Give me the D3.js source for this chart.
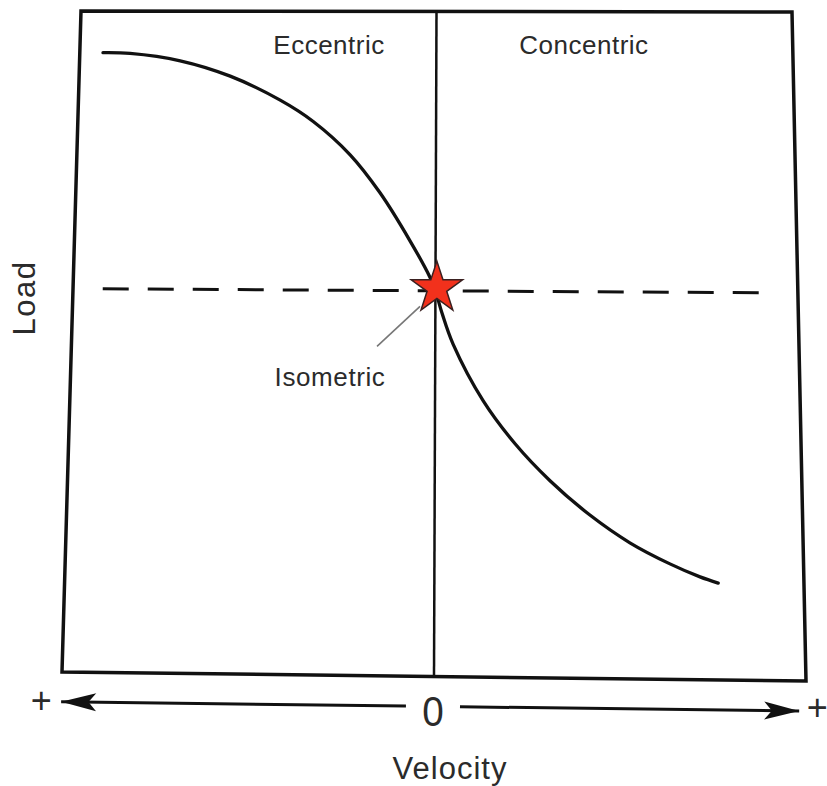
<!DOCTYPE html>
<html>
<head>
<meta charset="utf-8">
<script src="https://cdn.jsdelivr.net/npm/d3@7"></script>
<style>
  html, body { margin: 0; padding: 0; background: #fff; }
  svg { display: block; }
  text { font-family: "Liberation Sans", Arial, Helvetica, sans-serif; fill: #2b2b2b; }
</style>
</head>
<body>
<svg id="chart"></svg>
<script>
// load-velocity curve (velocity: eccentric < 0 < concentric, load 0..1)
const curveVelocity = [-0.935, -0.859, -0.718, -0.577, -0.436, -0.343, -0.239, -0.155, -0.071, -0.015, 0, 0.018, 0.049, 0.132, 0.219, 0.314, 0.422, 0.530, 0.638, 0.719, 0.768];
const curveLoad     = [ 0.937,  0.936,  0.925,  0.902,  0.866,  0.834,  0.784,  0.727,  0.655,  0.600, 0.58, 0.547, 0.500, 0.415, 0.351, 0.296, 0.245, 0.204, 0.173, 0.154, 0.145];

const isometricLoad = 0.58;
const dashRange = [-0.918, 0.918];
const regions = [
  { name: 'Eccentric',  velocity: -0.301 },
  { name: 'Concentric', velocity: 0.414 }
];

const width = 827, height = 786;
const svg = d3.select('#chart').attr('width', width).attr('height', height);

// the scanned frame is a bit out of square, so plot coords go through a bilinear warp
const corners = { tl: [81, 11], tr: [792, 12], bl: [62, 672], br: [806, 681] };

const x = d3.scaleLinear().domain([-1, 1]).range([0, 1]);
const y = d3.scaleLinear().domain([0, 1]).range([1, 0]);

function warp(vel, load) {
  const u = x(vel), v = y(load);
  const a = (1 - u) * (1 - v), b = u * (1 - v), c = (1 - u) * v, d = u * v;
  return [
    a * corners.tl[0] + b * corners.tr[0] + c * corners.bl[0] + d * corners.br[0],
    a * corners.tl[1] + b * corners.tr[1] + c * corners.bl[1] + d * corners.br[1]
  ];
}

// frame
const frame = [[-1, 1], [1, 1], [1, 0], [-1, 0]].map(p => warp(p[0], p[1]));
svg.append('path')
  .attr('d', d3.line().curve(d3.curveLinearClosed)(frame))
  .attr('fill', 'none')
  .attr('stroke', '#111')
  .attr('stroke-width', 3.5)
  .attr('stroke-linejoin', 'miter');

// zero velocity line
svg.append('line')
  .attr('x1', warp(0, 1)[0]).attr('y1', warp(0, 1)[1])
  .attr('x2', warp(0, 0)[0]).attr('y2', warp(0, 0)[1])
  .attr('stroke', '#111')
  .attr('stroke-width', 2.5);

// isometric load, dashed
const d0 = warp(dashRange[0], isometricLoad), d1 = warp(dashRange[1], isometricLoad);
svg.append('line')
  .attr('x1', d0[0]).attr('y1', d0[1])
  .attr('x2', d1[0]).attr('y2', d1[1])
  .attr('stroke', '#111')
  .attr('stroke-width', 3)
  .attr('stroke-dasharray', '26 19');

// the curve
const pts = curveVelocity.map((v, i) => warp(v, curveLoad[i]));
svg.append('path')
  .attr('d', d3.line().curve(d3.curveCatmullRom.alpha(0.5))(pts))
  .attr('fill', 'none')
  .attr('stroke', '#111')
  .attr('stroke-width', 3.3)
  .attr('stroke-linecap', 'round');

// region labels
regions.forEach(r => {
  const p = warp(r.velocity, 0.936);
  svg.append('text')
    .attr('x', p[0]).attr('y', p[1])
    .attr('text-anchor', 'middle')
    .attr('font-size', 26)
    .attr('letter-spacing', 0.5)
    .text(r.name);
});

// isometric pointer + label
const labelPos = warp(-0.288, 0.435);
svg.append('line')
  .attr('x1', labelPos[0] + 47).attr('y1', labelPos[1] - 40)
  .attr('x2', labelPos[0] + 90).attr('y2', labelPos[1] - 80)
  .attr('stroke', '#777')
  .attr('stroke-width', 1.6);
svg.append('text')
  .attr('x', labelPos[0]).attr('y', labelPos[1])
  .attr('text-anchor', 'middle')
  .attr('font-size', 26)
  .attr('letter-spacing', 0.6)
  .text('Isometric');

// star at the isometric point
const starPos = warp(0.004, 0.584);
svg.append('path')
  .attr('transform', `translate(${starPos[0]},${starPos[1]})`)
  .attr('d', d3.symbol(d3.symbolStar, 820)())
  .attr('fill', '#f2311c')
  .attr('stroke', '#3a2020')
  .attr('stroke-width', 1.5)
  .attr('stroke-linejoin', 'miter');

// velocity arrow under the frame
const arrowLoad = -0.045;
const aL = warp(-1, arrowLoad), aR = warp(0.98, arrowLoad);
const gL = warp(-0.075, arrowLoad), gR = warp(0.07, arrowLoad);
[[aL, gL], [gR, aR]].forEach(seg => {
  svg.append('line')
    .attr('x1', seg[0][0]).attr('y1', seg[0][1])
    .attr('x2', seg[1][0]).attr('y2', seg[1][1])
    .attr('stroke', '#111')
    .attr('stroke-width', 3);
});

function arrowHead(tip, from) {
  const dx = tip[0] - from[0], dy = tip[1] - from[1];
  const len = Math.hypot(dx, dy), ux = dx / len, uy = dy / len;
  const nx = -uy, ny = ux;
  const L = 35, W = 9;
  const back = [tip[0] - ux * L, tip[1] - uy * L];
  const notch = [tip[0] - ux * L * 0.78, tip[1] - uy * L * 0.78];
  const p = [
    tip,
    [back[0] + nx * W, back[1] + ny * W],
    notch,
    [back[0] - nx * W, back[1] - ny * W]
  ];
  svg.append('path')
    .attr('d', 'M' + p.map(q => q.join(',')).join('L') + 'Z')
    .attr('fill', '#111');
}
arrowHead(aL, aR);
arrowHead(aR, aL);

const zeroPos = warp(0, arrowLoad);
svg.append('text')
  .attr('transform', `translate(${zeroPos[0] - 1},${zeroPos[1] + 20}) scale(0.9,1)`)
  .attr('text-anchor', 'middle')
  .attr('font-size', 43)
  .text('0');

svg.append('text')
  .attr('x', aL[0] - 20).attr('y', aL[1] + 11)
  .attr('text-anchor', 'middle')
  .attr('font-size', 36)
  .text('+');
svg.append('text')
  .attr('x', aR[0] + 18).attr('y', aR[1] + 9)
  .attr('text-anchor', 'middle')
  .attr('font-size', 36)
  .text('+');

// axis titles
svg.append('text')
  .attr('x', 450).attr('y', 779)
  .attr('text-anchor', 'middle')
  .attr('font-size', 31)
  .attr('letter-spacing', 1)
  .text('Velocity');

svg.append('text')
  .attr('transform', 'translate(35,298) rotate(-90)')
  .attr('text-anchor', 'middle')
  .attr('font-size', 31)
  .attr('letter-spacing', 1.5)
  .text('Load');
</script>
</body>
</html>
